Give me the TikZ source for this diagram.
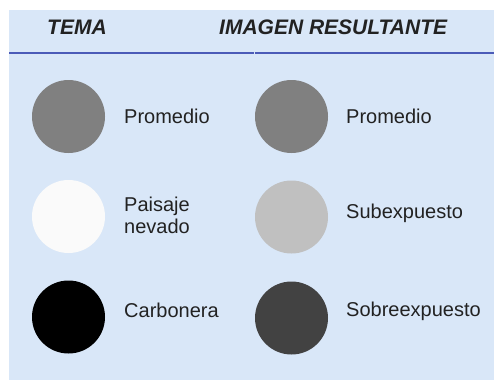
\documentclass[tikz,border=0pt]{standalone}
\usepackage{fontspec}
\setmainfont{Liberation Sans}
\definecolor{bgblue}{HTML}{D9E7F8}
\definecolor{rulecol}{HTML}{4B5BB8}
\definecolor{txt}{HTML}{222222}
\tikzset{
  disc/.style={circle,minimum size=73pt,inner sep=0pt,draw=none},
  lbl/.style={anchor=base west,inner sep=0pt,text=txt,font=\fontsize{20}{22}\selectfont,align=left},
  hdr/.style={anchor=base west,inner sep=0pt,text=txt,font=\fontsize{21}{24}\selectfont\bfseries\itshape},
}
\begin{document}
\begin{tikzpicture}[x=1pt,y=-1pt]
\useasboundingbox (0,0) rectangle (494,381);
\fill[bgblue] (9,10) rectangle (494,380);
\draw[rulecol,line width=1.3pt] (9,53) -- (253.5,53);
\draw[rulecol,line width=1.3pt] (254.5,53) -- (494,53);
\node[hdr] (h1) at (47,34) {TEMA};
\node[hdr] (h2) at (219,34) {IMAGEN RESULTANTE};
% left column
\node[disc,fill={rgb,255:red,128;green,128;blue,128}] (c1) at (68.5,116.5) {};
\node[disc,fill={rgb,255:red,250;green,250;blue,250}] (c2) at (68.5,216.5) {};
\node[disc,fill=black] (c3) at (68.5,317) {};
% right column
\node[disc,fill={rgb,255:red,128;green,128;blue,128}] (d1) at (291.5,116.5) {};
\node[disc,fill={rgb,255:red,192;green,192;blue,192}] (d2) at (291.5,217) {};
\node[disc,fill={rgb,255:red,66;green,66;blue,66}] (d3) at (291.5,318) {};
% labels
\node[lbl] (l1) at (124,123) {Promedio};
\node[lbl,anchor=north west] (l2) at (124,197) {Paisaje\\nevado};
\node[lbl] (l3) at (124,317) {Carbonera};
\node[lbl] (r1) at (346,123) {Promedio};
\node[lbl] (r2) at (346,218) {Subexpuesto};
\node[lbl] (r3) at (346,316) {Sobreexpuesto};
\end{tikzpicture}
\end{document}
